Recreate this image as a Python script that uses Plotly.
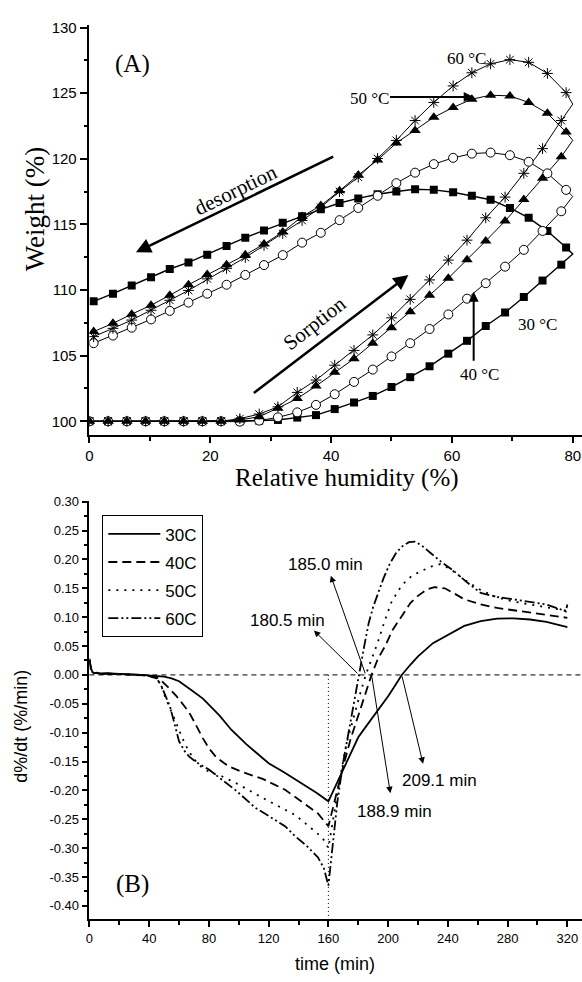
import plotly.graph_objects as go

W, H = 582, 982

# ---------------- Panel A data ----------------
RH_sorp = [0, 3.1, 6.2, 9.3, 12.4, 15.6, 18.7, 21.8, 24.9, 28.1, 31.2, 34.4, 37.5,
           40.6, 43.8, 46.9, 50.0, 53.1, 56.3, 59.4, 62.5, 65.6, 68.8, 71.9, 75.0, 78.1]
RH_turn = 80.0
RH_desorp = [78.9, 75.8, 72.7, 69.6, 66.4, 63.3, 60.2, 57.0, 53.9, 50.8, 47.7, 44.5, 41.4,
             38.3, 35.2, 32.0, 28.9, 25.8, 22.7, 19.5, 16.4, 13.3, 10.2, 7.0, 3.9, 0.7]

w30_sorp = [100, 100, 100, 100, 100, 100, 100, 100, 100, 100.05, 100.1, 100.28, 100.47,
            100.93, 101.43, 101.93, 102.61, 103.36, 104.19, 105.15, 106.13, 107.26, 108.29,
            109.47, 110.72, 111.93]
w30_turn = 112.74
w30_desorp = [113.24, 114.49, 115.5, 116.25, 116.88, 117.18, 117.45, 117.63, 117.68, 117.51,
              117.3, 116.98, 116.63, 116.15, 115.62, 115.12, 114.54, 113.99, 113.36, 112.68,
              112.1, 111.6, 110.97, 110.35, 109.72, 109.14]

w40_sorp = [100, 100, 100, 100, 100, 100, 100, 100, 99.97, 100.05, 100.3, 100.68, 101.25,
            102.06, 103.0, 103.94, 104.94, 105.95, 107.03, 108.14, 109.34, 110.52, 111.78,
            113.06, 114.5, 116.0]
w40_turn = 117.13
w40_desorp = [117.63, 118.89, 119.77, 120.27, 120.47, 120.39, 120.07, 119.59, 118.94, 118.14,
              117.18, 116.25, 115.32, 114.36, 113.61, 112.66, 111.9, 111.15, 110.4, 109.72,
              109.04, 108.41, 107.76, 107.13, 106.53, 105.95]

w50_sorp = [100, 100, 100, 100, 100, 100, 100, 100, 100.1, 100.35, 101.0, 101.73, 102.68,
            103.74, 104.77, 105.95, 107.13, 108.34, 109.6, 110.9, 112.3, 113.74, 115.25,
            116.89, 118.52, 120.15]
w50_turn = 121.4
w50_desorp = [122.03, 123.46, 124.29, 124.79, 124.84, 124.54, 123.91, 123.16, 122.15, 121.2,
              119.9, 118.76, 117.56, 116.43, 115.6, 114.42, 113.5, 112.68, 111.93, 111.18,
              110.4, 109.6, 108.84, 108.16, 107.46, 106.83]

w60_sorp = [100, 100, 100, 100, 100, 100, 100, 100, 100.2, 100.55, 101.1, 102.2, 103.14,
            104.27, 105.4, 106.58, 107.88, 109.29, 110.77, 112.28, 113.8, 115.5, 117.08,
            118.89, 120.77, 122.91]
w60_turn = 124.16
w60_desorp = [125.04, 126.5, 127.35, 127.55, 127.23, 126.55, 125.55, 124.29, 122.91, 121.4,
              120.02, 118.6, 117.5, 116.3, 115.3, 114.3, 113.4, 112.48, 111.65, 110.85,
              109.97, 109.22, 108.46, 107.71, 107.08, 106.45]

# ---------------- Panel B data ----------------
t30 = [0, 1, 2, 3, 5, 8, 12, 16, 20, 25, 30, 35, 40, 45, 50, 55, 60, 67, 76, 87, 95, 105,
       120, 130, 142, 152, 160, 165, 170, 175, 180, 185, 190, 195, 200, 205, 209.1, 215,
       220, 230, 242, 251, 262, 273, 284, 295, 306, 320]
v30 = [0.028, 0.012, 0.005, 0.003, 0.004, 0.002, 0.003, 0.002, 0.002, 0.001, 0.001, 0.0,
       -0.001, -0.002, -0.003, -0.006, -0.011, -0.024, -0.041, -0.07, -0.095, -0.12,
       -0.153, -0.168, -0.187, -0.204, -0.219, -0.192, -0.165, -0.138, -0.108, -0.09,
       -0.073, -0.055, -0.037, -0.017, 0.0, 0.018, 0.032, 0.055, 0.073, 0.085, 0.093,
       0.0975, 0.098, 0.096, 0.092, 0.083]

t40 = [0, 1, 2, 3, 5, 8, 12, 16, 20, 25, 30, 35, 40, 45, 49, 53, 58, 63, 67, 71, 76, 80,
       85, 93, 102, 116, 131, 138, 146, 153, 160, 163, 166, 170, 175, 180, 185, 188.9, 193,
       198, 203, 209, 215, 220, 226, 231, 238, 245, 251, 262, 273, 284, 295, 306, 320]
v40 = [0.025, 0.010, 0.004, 0.003, 0.003, 0.002, 0.002, 0.002, 0.001, 0.001, 0.0, 0.0,
       -0.001, -0.004, -0.012, -0.022, -0.036, -0.052, -0.066, -0.085, -0.11, -0.127,
       -0.143, -0.158, -0.168, -0.18, -0.199, -0.212, -0.227, -0.24, -0.262, -0.23,
       -0.198, -0.158, -0.11, -0.07, -0.033, 0.0, 0.027, 0.05, 0.078, 0.102, 0.125,
       0.137, 0.148, 0.152, 0.15, 0.14, 0.131, 0.122, 0.116, 0.112, 0.108, 0.104, 0.099]

t50 = [0, 1, 2, 3, 5, 8, 12, 16, 20, 25, 30, 35, 40, 45, 48, 51, 54, 57, 60, 64, 68, 72,
       76, 82, 89, 100, 116, 130, 138, 145, 151, 156, 160, 163, 167, 172, 177, 181, 185,
       189, 193, 197, 202, 207, 211, 216, 222, 228, 235, 242, 251, 262, 273, 284, 295,
       306, 320]
v50 = [0.026, 0.011, 0.005, 0.003, 0.003, 0.002, 0.002, 0.002, 0.001, 0.001, 0.0, 0.0,
       -0.002, -0.006, -0.018, -0.04, -0.058, -0.077, -0.097, -0.12, -0.138, -0.152,
       -0.162, -0.17, -0.176, -0.19, -0.213, -0.232, -0.243, -0.258, -0.272, -0.282,
       -0.30, -0.25, -0.19, -0.12, -0.07, -0.035, 0.0, 0.028, 0.056, 0.088, 0.125, 0.147,
       0.16, 0.172, 0.18, 0.187, 0.192, 0.183, 0.165, 0.147, 0.134, 0.127, 0.122, 0.117,
       0.111]

t60 = [0, 1, 2, 3, 5, 8, 12, 16, 20, 25, 30, 35, 40, 45, 48, 51, 54, 57, 60, 64, 67, 72,
       80, 90, 98, 111, 124, 131, 138, 145, 153, 157, 160, 163, 166, 170, 174, 177, 180.5,
       184, 187, 190, 193, 197, 201, 205, 209, 214, 218, 223, 229, 236, 244, 253, 262,
       273, 284, 295, 306, 315, 319, 320]
v60 = [0.027, 0.012, 0.005, 0.003, 0.003, 0.002, 0.002, 0.002, 0.001, 0.001, 0.0, 0.0,
       -0.002, -0.006, -0.018, -0.035, -0.055, -0.085, -0.115, -0.133, -0.142, -0.152,
       -0.164, -0.184, -0.2, -0.23, -0.25, -0.262, -0.28, -0.295, -0.316, -0.335, -0.365,
       -0.29, -0.22, -0.15, -0.09, -0.045, 0.0, 0.05, 0.09, 0.118, 0.14, 0.168, 0.192,
       0.21, 0.222, 0.23, 0.231, 0.223, 0.21, 0.195, 0.18, 0.16, 0.142, 0.135, 0.131,
       0.127, 0.122, 0.114, 0.11, 0.122]

labels_B = ["30C", "40C", "50C", "60C"]
y2_ticks = [-0.40, -0.35, -0.30, -0.25, -0.20, -0.15, -0.10, -0.05, 0.0, 0.05, 0.10,
            0.15, 0.20, 0.25, 0.30]
zero_cross = [180.5, 185.0, 188.9, 209.1]
switch_time = 160

SERIF = "Liberation Serif"
SANS = "Liberation Sans"

X1_RANGE = [0, 81.53]
Y1_RANGE = [98.96, 130.2]
X2_RANGE = [0, 329.8]
Y2_RANGE = [-0.4236, 0.3005]

fig = go.Figure()

seriesA = [
    (w30_sorp, w30_turn, w30_desorp, dict(symbol="square", size=8, color="black"), 1.4),
    (w40_sorp, w40_turn, w40_desorp,
     dict(symbol="circle", size=9, color="white", line=dict(color="black", width=1)), 1.0),
    (w50_sorp, w50_turn, w50_desorp, dict(symbol="triangle-up", size=10, color="black"), 1.0),
    (w60_sorp, w60_turn, w60_desorp,
     dict(symbol="asterisk-open", size=9, color="black", line=dict(color="black", width=1)), 1.0),
]
for s, tv, d, mk, lw in seriesA:
    fig.add_trace(go.Scatter(x=RH_sorp + [RH_turn] + RH_desorp, y=s + [tv] + d,
                             mode="lines", line=dict(color="black", width=lw),
                             showlegend=False, hoverinfo="skip", xaxis="x", yaxis="y"))
for s, tv, d, mk, lw in seriesA:
    fig.add_trace(go.Scatter(x=RH_sorp + RH_desorp, y=s + d, mode="markers", marker=mk,
                             showlegend=False, xaxis="x", yaxis="y"))

dashes = ["solid", "9px,5px", "2px,6px", "10px,3px,2px,3px,2px,3px"]
for i, (t, v) in enumerate([(t30, v30), (t40, v40), (t50, v50), (t60, v60)]):
    fig.add_trace(go.Scatter(x=t, y=v, mode="lines", name=labels_B[i],
                             line=dict(color="black", width=1.8, dash=dashes[i]),
                             legendgroup=labels_B[i], xaxis="x2", yaxis="y2"))

# reference lines in panel B
fig.add_shape(type="line", xref="x2 domain", yref="y2", x0=0, x1=1, y0=0, y1=0,
              line=dict(color="black", width=1, dash="5px,4px"))
fig.add_shape(type="line", xref="x2", yref="y2", x0=switch_time, x1=switch_time,
              y0=0, y1=Y2_RANGE[0], line=dict(color="black", width=1, dash="1px,3px"))

ann = []
def atext(text, x, y, size, angle=0, font=SERIF):
    return dict(text=text, x=x, y=y, xref="x", yref="y", showarrow=False,
                xanchor="center", yanchor="middle",
                textangle=angle, font=dict(family=font, size=size, color="black"))

ann += [
    atext("(A)", 7.2, 127.2, 25),
    atext("60 °C", 62.4, 127.66, 17),
    atext("50 °C", 46.3, 124.6, 17),
    atext("30 °C", 74.2, 107.36, 17),
    atext("40 °C", 64.6, 103.58, 17),
    atext("desorption", 24.2, 117.65, 21, -26),
    atext("Sorption", 37.3, 107.5, 21, -38),
]
def aarrow(x, y, ax, ay, w, xr="x", yr="y", head=2, size=1.0):
    return dict(text="", x=x, y=y, ax=ax, ay=ay, xref=xr, yref=yr, axref=xr, ayref=yr,
                showarrow=True, arrowhead=head, arrowsize=size, arrowwidth=w,
                arrowcolor="black")
ann += [
    aarrow(7.7, 112.88, 40.6, 120.22, 2.5, size=1.2),
    aarrow(52.8, 111.14, 26.96, 102.07, 2.5, size=1.2),
    aarrow(63.6, 124.7, 49.5, 124.7, 2, size=1.0),
    aarrow(63.6, 109.86, 63.6, 104.49, 2, size=1.0),
]

def btext(text, x, y, size, font=SANS):
    return dict(text=text, x=x, y=y, xref="x2", yref="y2", showarrow=False,
                xanchor="center", yanchor="middle",
                font=dict(family=font, size=size, color="black"))
ann += [
    btext("185.0 min", 158.2, 0.192, 17),
    btext("180.5 min", 132.7, 0.095, 17),
    btext("209.1 min", 234.4, -0.183, 17),
    btext("188.9 min", 204.6, -0.236, 17),
    btext("(B)", 29.1, -0.363, 25, SERIF),
    aarrow(150.3, 0.077, zero_cross[0], 0, 1, "x2", "y2", head=2, size=1.3),
    aarrow(161.6, 0.172, zero_cross[1], 0, 1, "x2", "y2", head=2, size=1.3),
    aarrow(201.5, -0.205, zero_cross[2], 0, 1, "x2", "y2", head=2, size=1.3),
    aarrow(223.4, -0.154, zero_cross[3], 0, 1, "x2", "y2", head=2, size=1.3),
]

def ptext(text, px, py, size, font, angle=0):
    return dict(text=text, x=px / W, y=1 - py / H, xref="paper", yref="paper",
                xanchor="center", yanchor="middle", showarrow=False, textangle=angle,
                font=dict(family=font, size=size, color="black"))
ann += [
    ptext("Weight (%)", 31, 203, 27, SERIF, -90),
    ptext("Relative humidity (%)", 345, 474, 25, SERIF),
    ptext("d%/dt (%/min)", 17, 724, 18, SANS, -90),
    ptext("time (min)", 333, 964, 18, SANS),
]

axis_common = dict(showline=True, linecolor="black", linewidth=1.5, ticks="outside",
                   tickwidth=1.5, tickcolor="black", showgrid=False, zeroline=False,
                   mirror=False)

fig.update_layout(
    width=W, height=H, margin=dict(l=0, r=0, t=0, b=0),
    paper_bgcolor="white", plot_bgcolor="white",
    annotations=ann,
    xaxis=dict(domain=[86 / W, 1], range=X1_RANGE, anchor="y", tickmode="array",
               tickvals=[0, 20, 40, 60, 80], ticklen=6,
               tickfont=dict(family=SANS, size=15, color="black"),
               minor=dict(tickvals=[10, 30, 50, 70], ticks="outside", ticklen=4,
                          tickwidth=1.5, tickcolor="black"),
               **axis_common),
    yaxis=dict(domain=[1 - 431 / H, 1 - 18 / H], range=Y1_RANGE, anchor="x",
               tickmode="array", tickvals=[100, 105, 110, 115, 120, 125, 130], ticklen=8,
               tickfont=dict(family=SANS, size=15, color="black"),
               minor=dict(tickvals=[102.5, 107.5, 112.5, 117.5, 122.5, 127.5],
                          ticks="outside", ticklen=4, tickwidth=1.5, tickcolor="black"),
               **axis_common),
    xaxis2=dict(domain=[86 / W, 1], range=X2_RANGE, anchor="y2", tickmode="array",
                tickvals=[0, 40, 80, 120, 160, 200, 240, 280, 320], ticklen=6,
                tickfont=dict(family=SANS, size=13, color="black"),
                minor=dict(tickvals=[20, 60, 100, 140, 180, 220, 260, 300], ticks="outside",
                           ticklen=4, tickwidth=1.5, tickcolor="black"),
                **axis_common),
    yaxis2=dict(domain=[1 - 919 / H, 1 - 498 / H], range=Y2_RANGE, anchor="x2",
                tickmode="array", tickvals=y2_ticks,
                ticktext=[f"{v:.2f}".replace("-0.00", "0.00") for v in y2_ticks],
                ticklen=6, tickfont=dict(family=SANS, size=13, color="black"),
                minor=dict(tickvals=[v + 0.025 for v in y2_ticks[:-1]], ticks="outside",
                           ticklen=4, tickwidth=1.5, tickcolor="black"),
                **axis_common),
    legend=dict(x=99 / W, y=1 - 512 / H, xanchor="left", yanchor="top",
                bordercolor="black", borderwidth=1, bgcolor="white",
                font=dict(family=SANS, size=17, color="black"),
                itemwidth=52, tracegroupgap=3, traceorder="grouped"),
)

fig.write_html("out.html")
